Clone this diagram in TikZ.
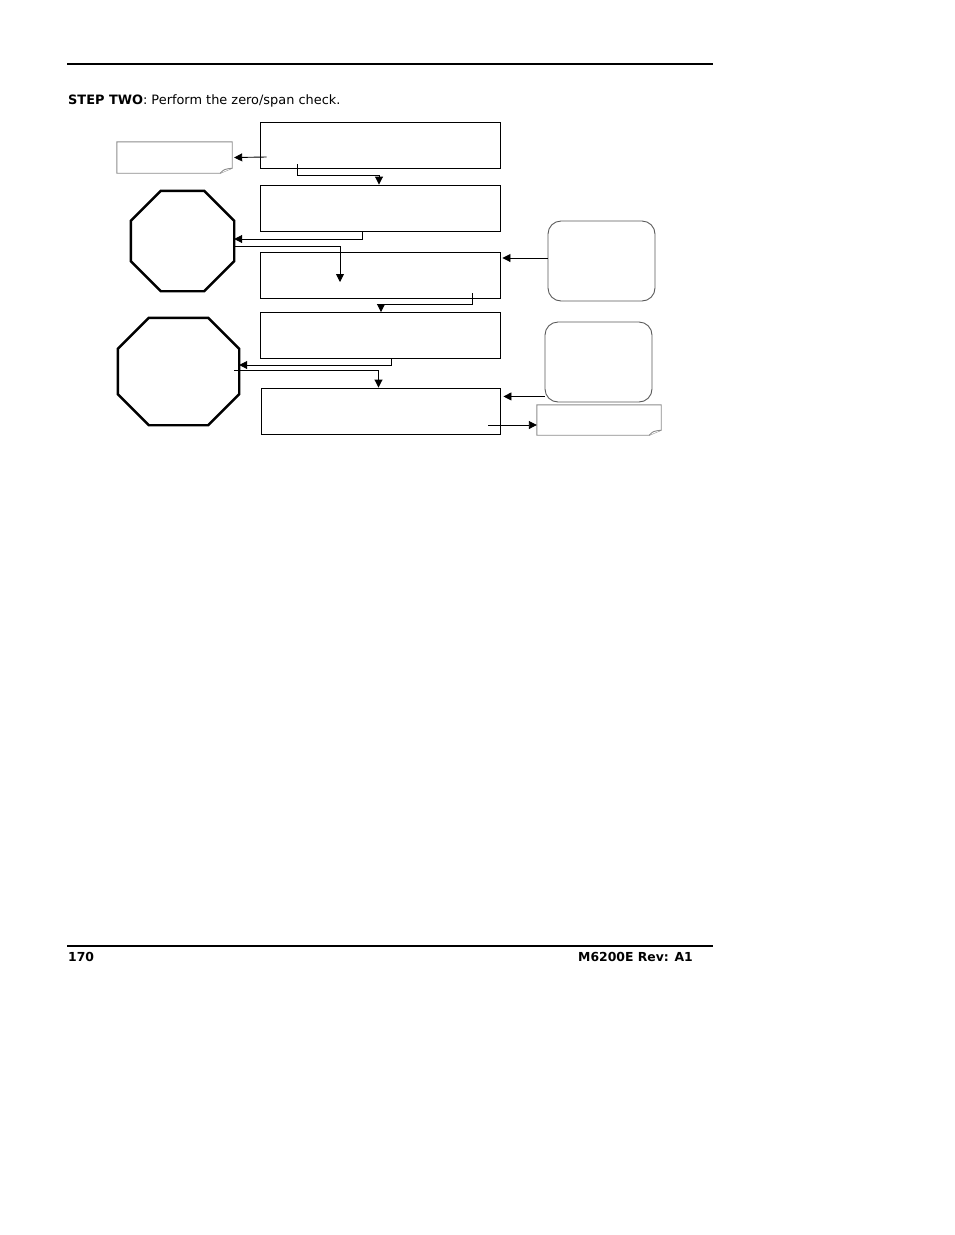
\documentclass[tikz,border=0pt]{standalone}
\usepackage{fontspec}
\setmainfont{DejaVu Sans}
\usepackage{tikz}
\usetikzlibrary{arrows.meta}
\tikzset{
    step-box/.style = {draw=black, line width=0.9pt, rectangle, minimum width=240pt, minimum height=46pt, inner sep=0pt},
    stop-sign/.style = {rectangle, inner sep=0pt},
    stop-pen/.style = {draw=black, line width=2.4pt, line join=miter, fill=white},
    ask-box/.style = {draw=black!65, line width=0.9pt, rectangle, rounded corners=13pt, minimum width=107pt, minimum height=80pt, inner sep=0pt},
    note-box/.style = {rectangle, inner sep=0pt},
    note-pen/.style = {draw=black!45, line width=0.9pt, fill=white},
    link-arrow/.style = {line width=0.9pt, -{Triangle[length=8pt,width=8pt]}},
    page-rule/.style = {line width=1.1pt},
}

\begin{document}
\begin{tikzpicture}[x=1pt,y=-1pt]
\useasboundingbox (0,0) rectangle (954,1235);
\fontsize{12.4}{15}\selectfont
% page frame
\draw[page-rule] (67,64) -- (713,64);
\draw[page-rule] (67,946) -- (713,946);
\node[anchor=base west, inner sep=0pt, font=\fontsize{12.9}{15}\selectfont] (title) at (68,104) {\textbf{STEP TWO}: Perform the zero/span check.};
\node[anchor=base west, inner sep=0pt] (page-no) at (68,961) {\textbf{170}};
\node[anchor=base east, inner sep=0pt] (rev) at (693,961) {\textbf{M6200E Rev: A1}};

% steps
\node[step-box] (box1) at (380,145) {};
\node[step-box] (box2) at (380,208) {};
\node[step-box] (box3) at (380,275) {};
\node[step-box] (box4) at (380,335.5) {};
\node[step-box, minimum width=239pt] (box5) at (380.5,411) {};

% stop signs
\node[stop-sign, minimum width=103pt, minimum height=100pt] (stop1) at (182.5,241) {};
\node[stop-sign, minimum width=121pt, minimum height=107pt] (stop2) at (178.5,371.5) {};
\foreach \s/\c in {stop1/30,stop2/31}{
    \draw[stop-pen] ([xshift=\c pt]\s.north west) -- ([xshift=-\c pt]\s.north east)
        -- ([yshift=-\c pt]\s.north east) -- ([yshift=\c pt]\s.south east)
        -- ([xshift=-\c pt]\s.south east) -- ([xshift=\c pt]\s.south west)
        -- ([yshift=\c pt]\s.south west) -- ([yshift=-\c pt]\s.north west) -- cycle;
}

% side boxes
\node[ask-box] (ask1) at (601.5,261) {};
\node[ask-box] (ask2) at (598.5,362) {};
\node[note-box, minimum width=115pt, minimum height=31pt] (note1) at (174.5,157.5) {};
\node[note-box, minimum width=124pt, minimum height=30pt] (note2) at (599,420) {};
\foreach \n in {note1,note2}{
    \draw[note-pen] (\n.north west) -- (\n.north east) -- ([yshift=5pt]\n.south east)
        -- ([xshift=-12pt]\n.south east) -- (\n.south west) -- cycle;
    \draw[note-pen] ([xshift=-12pt]\n.south east) .. controls ([shift={(-8pt,4pt)}]\n.south east) .. ([yshift=5pt]\n.south east);
}

% connectors
\draw[link-arrow] ([shift={(7,12)}]box1.west) -- ([xshift=2pt]note1.east);
\draw[link-arrow] ([shift={(-83,-4)}]box1.south) |- ([shift={(-1,-9)}]box2.north) -- ([xshift=-1pt]box2.north);
\draw[link-arrow] ([xshift=-18pt]box2.south) |- ([yshift=2pt]stop1.east);
\draw[link-arrow] ([yshift=-5pt]stop1.east) -| ([shift={(-40,7)}]box3.center);
\draw[link-arrow, shorten >=2pt] ([yshift=3pt]ask1.west) coordinate (p1) -- (p1 -| box3.east);
\draw[link-arrow] ([shift={(92,-5)}]box3.south) -- ++(0,11) -| ([xshift=1pt]box4.north);
\draw[link-arrow] ([xshift=11pt]box4.south) |- ([yshift=6.5pt]stop2.east);
\draw[link-arrow] ([shift={(-5,-1.5)}]stop2.east) -| ([xshift=-2pt]box5.north);
\draw[link-arrow, shorten >=3pt] ([yshift=6pt]ask2.south west) coordinate (p2) -- (p2 -| box5.east);
\draw[link-arrow] ([shift={(-12,14)}]box5.east) coordinate (p3) -- (p3 -| note2.west);
\end{tikzpicture}
\end{document}
